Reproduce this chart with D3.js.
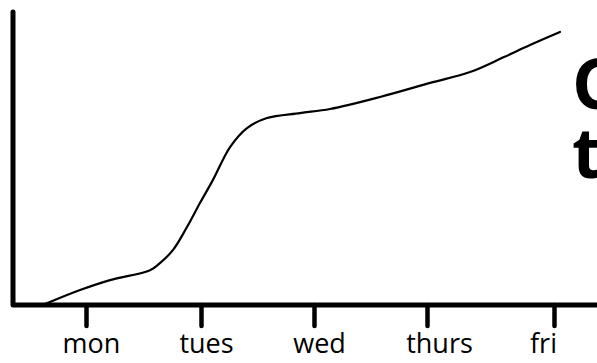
<!DOCTYPE html>
<html>
<head>
<meta charset="utf-8">
<script src="https://cdn.jsdelivr.net/npm/d3@7"></script>
<style>
  html, body { margin: 0; padding: 0; background: #fff; overflow: hidden; }
  svg { display: block; }
</style>
</head>
<body>
<svg id="chart" width="597" height="363"></svg>
<script>
// Weekdays along the bottom axis (position in days from Monday)
const days = ["mon", "tues", "wed", "thurs", "fri"];
const dayPos = [0, 1, 2, 3, 4];

// Cumulative amount through the week (x in days, y on a 0–100 scale)
const curveX = [-0.357, -0.052, 0.209, 0.557, 0.643, 0.757, 0.878, 0.991, 1.106, 1.257,
                1.407, 1.584, 1.876, 2.142, 2.584, 3.024, 3.339, 3.606, 3.811, 4.047];
const curveY = [0.3, 5.1, 8.5, 11.9, 14.3, 18.8, 26.6, 34.8, 42.7, 53.9,
                60.4, 63.8, 65.5, 66.9, 71.0, 75.8, 79.5, 84.6, 88.7, 93.2];

// Heading lines, running off the right edge
const titleLines = ["C", "t"];

const svg = d3.select("#chart");

// Hand-spaced day ticks: a piecewise-linear scale keeps the uneven spacing
const x = d3.scaleLinear().domain([-0.635, 0, 1, 2, 3, 4]).range([13, 86, 201, 314, 427, 554]);
const y = d3.scaleLinear().domain([0, 100]).range([305, 12]);

// Hand-lettered labels sit a little off their ticks
const labelNudge = [5, 5, 5, 12, -11];

// Curve
const pts = curveX.map((d, i) => [d, curveY[i]]);
svg.append("path")
  .datum(pts)
  .attr("fill", "none")
  .attr("stroke", "#000")
  .attr("stroke-width", 2.2)
  .attr("stroke-linecap", "round")
  .attr("d", d3.line().x(d => x(d[0])).y(d => y(d[1])).curve(d3.curveCatmullRom.alpha(0.5)));

// Y axis line (no ticks) joined to the baseline
svg.append("path")
  .attr("fill", "none")
  .attr("stroke", "#000")
  .attr("stroke-width", 5)
  .attr("stroke-linejoin", "round")
  .attr("stroke-linecap", "round")
  .attr("d", `M${x.range()[0]},${y(100)} L${x.range()[0]},${y(0)} L597,${y(0)}`);

// X axis ticks and labels
const xAxis = d3.axisBottom(x)
  .tickValues(dayPos)
  .tickFormat((d, i) => days[i])
  .tickSize(21)
  .tickPadding(12);

const gx = svg.append("g")
  .attr("transform", `translate(0,${y(0)})`)
  .call(xAxis);
gx.select(".domain").remove();
gx.selectAll(".tick line")
  .attr("stroke", "#000")
  .attr("stroke-width", 4.5)
  .attr("stroke-linecap", "round");
gx.selectAll(".tick text")
  .attr("fill", "#000")
  .attr("dx", (d, i) => labelNudge[i])
  .attr("dy", "0.56em")
  .style("font-family", "'Open Sans', sans-serif")
  .style("font-size", "27px")
  .style("font-weight", 400);

// Heading text, one block with a line per tspan
svg.append("text")
  .attr("x", 572)
  .attr("y", 109)
  .attr("fill", "#000")
  .style("font-family", "'Open Sans', sans-serif")
  .style("font-size", "70px")
  .style("font-weight", 700)
  .selectAll("tspan")
  .data(titleLines)
  .join("tspan")
  .attr("x", 572)
  .attr("dy", (d, i) => i === 0 ? 0 : 69)
  .text(d => d);
</script>
</body>
</html>
